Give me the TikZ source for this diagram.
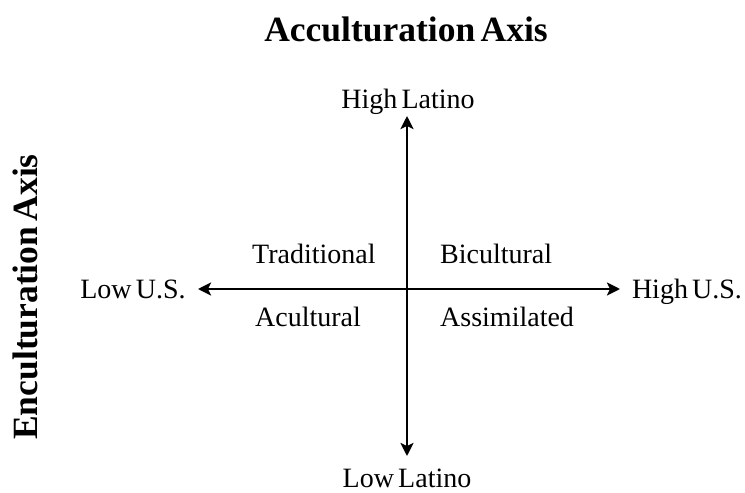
\documentclass[tikz,border=0pt]{standalone}
\usepackage{fontspec}
\setmainfont{Liberation Serif}[WordSpace=0.6]
\usetikzlibrary{arrows.meta}

\begin{document}
\begin{tikzpicture}[
  x=1pt,y=-1pt,
  heading/.style={font=\fontsize{35.5}{40}\selectfont\bfseries,inner sep=0pt},
  label/.style={font=\fontsize{28}{32}\selectfont,inner sep=0pt,anchor=base},
  axis/.style={{Stealth[length=13pt,width=13pt,inset=3pt]}-{Stealth[length=13pt,width=13pt,inset=3pt]},line width=2.6pt}]

  \useasboundingbox (0,0) rectangle (745,493);

  % Titles of the two axes
  \node[heading] (acc) at (406,29) {Acculturation Axis};
  \node[heading,rotate=90] (enc) at (25,297) {Enculturation Axis};

  % Ends of the axes
  \node[label] (highlat) at (408,108) {High Latino};
  \node[label] (lowlat) at (407,487) {Low Latino};
  \node[label] (lowus) at (133,298) {Low U.S.};
  \node[label] (highus) at (687,298) {High U.S.};

  % Quadrants
  \node[label,anchor=base west] (trad) at (252,263) {Traditional};
  \node[label,anchor=base west] (bicul) at (440,263) {Bicultural};
  \node[label,anchor=base west] (acul) at (255,326) {Acultural};
  \node[label,anchor=base west] (assim) at (440,326) {Assimilated};

  % Draw the axes
  \coordinate (top) at (407,116);
  \coordinate (bottom) at (407,456);
  \coordinate (left) at (198,289);
  \coordinate (right) at (620,289);
  \draw[axis] (left) -- (right);
  \draw[axis] (top) -- (bottom);
\end{tikzpicture}
\end{document}
